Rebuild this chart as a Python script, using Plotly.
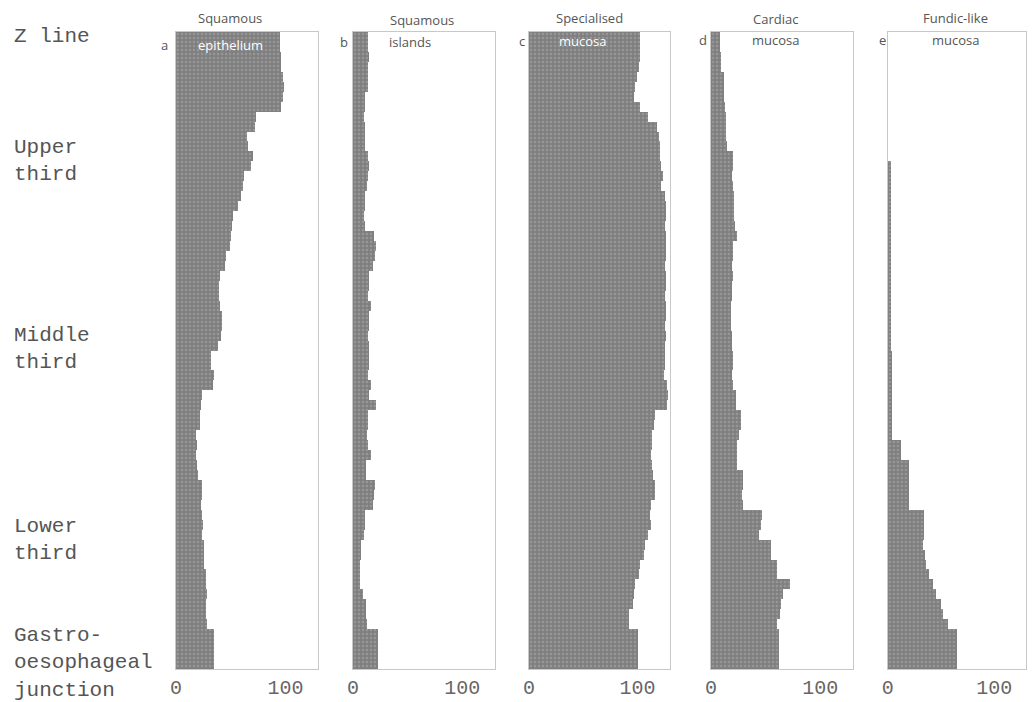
import plotly.graph_objects as go

# Position bins from Z line (top, index 0) to gastro-oesophageal junction (bottom)
levels = list(range(64))

squamous_epithelium = [95, 95, 96, 96, 98, 99, 98, 96, 73, 72, 65, 66, 70, 69, 62, 61,
                       59, 57, 52, 51, 50, 49, 46, 45, 40, 39, 39, 40, 42, 42, 41, 38,
                       32, 32, 35, 34, 24, 23, 22, 22, 18, 19, 18, 19, 20, 24, 24, 23,
                       24, 25, 24, 26, 26, 26, 27, 27, 28, 27, 27, 28, 35, 35, 35, 35]

squamous_islands = [14, 14, 15, 14, 14, 14, 11, 11, 10, 11, 11, 11, 14, 15, 14, 13,
                    11, 11, 10, 11, 19, 21, 20, 18, 15, 15, 14, 16, 15, 15, 14, 15,
                    15, 15, 14, 16, 15, 21, 14, 14, 13, 14, 16, 12, 12, 20, 19, 18,
                    11, 11, 10, 7, 7, 6, 6, 6, 9, 12, 12, 13, 23, 23, 23, 23]

specialised_mucosa = [102, 102, 102, 101, 99, 98, 97, 102, 110, 118, 120, 121, 121, 122, 123, 122,
                      125, 126, 126, 125, 126, 126, 126, 125, 126, 126, 125, 126, 126, 125, 126, 125,
                      125, 125, 124, 127, 128, 127, 116, 115, 113, 113, 112, 113, 114, 116, 116, 112,
                      111, 112, 110, 107, 106, 102, 101, 98, 97, 96, 92, 92, 100, 100, 100, 100]

cardiac_mucosa = [8, 8, 9, 9, 12, 12, 12, 13, 14, 14, 14, 15, 20, 20, 19, 20,
                  21, 21, 21, 22, 24, 20, 20, 19, 20, 19, 19, 18, 18, 18, 19, 19,
                  20, 20, 19, 20, 23, 23, 27, 27, 26, 24, 24, 24, 29, 29, 28, 29,
                  47, 46, 44, 55, 55, 60, 60, 72, 66, 64, 63, 60, 62, 62, 62, 62]

fundic_like_mucosa = [0, 0, 0, 0, 0, 0, 0, 0, 0, 0, 0, 0, 0, 3, 3, 3,
                      3, 3, 3, 3, 3, 3, 3, 3, 3, 3, 3, 3, 3, 3, 3, 3,
                      4, 4, 4, 4, 4, 4, 4, 4, 4, 12, 12, 20, 20, 20, 20, 20,
                      34, 34, 34, 33, 35, 36, 39, 42, 45, 50, 52, 56, 65, 65, 65, 65]

series = [squamous_epithelium, squamous_islands, specialised_mucosa,
          cardiac_mucosa, fundic_like_mucosa]
titles_top = ["Squamous", "Squamous", "Specialised", "Cardiac", "Fundic-like"]
titles_bottom = ["epithelium", "islands", "mucosa", "mucosa", "mucosa"]
sub_colors = ["white", "#555555", "white", "#555555", "#555555"]
letters = ["a", "b", "c", "d", "e"]
x_ticks = [0, 100]

region_labels = ["Z line", "Upper<br>third", "Middle<br>third", "Lower<br>third",
                 "Gastro-<br>oesophageal<br>junction"]

# Layout in page pixels (page body has an 8px margin, so shift by OFF)
OFF = 8
W, H = 1036 - OFF, 702 - OFF
px_domains = [(171, 314), (349, 492), (526, 668), (709, 852), (887, 1026)]
top_px, bot_px = 32, 669
title_pos = [(225, 18, 226, 45, 159), (418, 20, 406, 42, 340), (587, 18, 580, 41, 519),
             (774, 19, 774, 40, 701), (955, 18, 955, 40, 882)]
region_y = [37, 161, 349, 540, 663]


def fx(x):
    return (x - OFF) / W


def fy(y):
    return (H - (y - OFF)) / H


fig = go.Figure()
frame_col = "#c8c8c8"
for k, vals in enumerate(series):
    ax = "" if k == 0 else str(k + 1)
    fig.add_trace(go.Bar(
        x=vals, y=levels, orientation="h", width=1,
        marker=dict(color="#828282", line=dict(width=0),
                    pattern=dict(shape=".", fgcolor="#adadad", bgcolor="#7f7f7f",
                                 size=4, solidity=0.3)),
        xaxis="x" + ax, yaxis="y" + ax, showlegend=False, hoverinfo="x"))
    d0, d1 = px_domains[k]
    fig.layout["xaxis" + ax] = dict(
        domain=[fx(d0), fx(d1)], range=[0, 130], tickvals=x_ticks,
        ticktext=[str(t) for t in x_ticks], showgrid=False, zeroline=False,
        showline=True, linecolor=frame_col, linewidth=1, mirror=True,
        ticks="", tickfont=dict(family="Liberation Mono, Courier New, monospace",
                                size=20, color="#666666"),
        anchor="y" + ax, fixedrange=True)
    fig.layout["yaxis" + ax] = dict(
        domain=[fy(bot_px), fy(top_px)], range=[63.5, -0.5], showticklabels=False,
        showgrid=False, zeroline=False, showline=True, linecolor=frame_col,
        linewidth=1, mirror=True, ticks="", anchor="x" + ax, fixedrange=True)

    tx, ty, sx, sy, lx = title_pos[k]
    fig.add_annotation(x=fx(tx), y=fy(ty), xref="paper", yref="paper",
                       xanchor="center", yanchor="middle",
                       text=titles_top[k], showarrow=False,
                       font=dict(family="Open Sans, sans-serif", size=13, color="#555555"))
    fig.add_annotation(x=fx(sx), y=fy(sy), xref="paper", yref="paper",
                       xanchor="center", yanchor="middle",
                       text=titles_bottom[k], showarrow=False,
                       font=dict(family="Open Sans, sans-serif", size=13, color=sub_colors[k]))
    fig.add_annotation(x=fx(lx), y=fy(sy), xref="paper", yref="paper",
                       xanchor="center", yanchor="middle",
                       text=letters[k], showarrow=False,
                       font=dict(family="Open Sans, sans-serif", size=13, color="#555555"))

for lab, yy in zip(region_labels, region_y):
    fig.add_annotation(x=fx(6), y=fy(yy), xref="paper", yref="paper",
                       text=lab, showarrow=False, xanchor="left", yanchor="middle",
                       align="left",
                       font=dict(family="Liberation Mono, Courier New, monospace",
                                 size=21, color="#555555"))

fig.update_layout(width=W, height=H, bargap=0,
                  margin=dict(l=0, r=0, t=0, b=0),
                  paper_bgcolor="white", plot_bgcolor="white")

fig.write_html("out.html")
